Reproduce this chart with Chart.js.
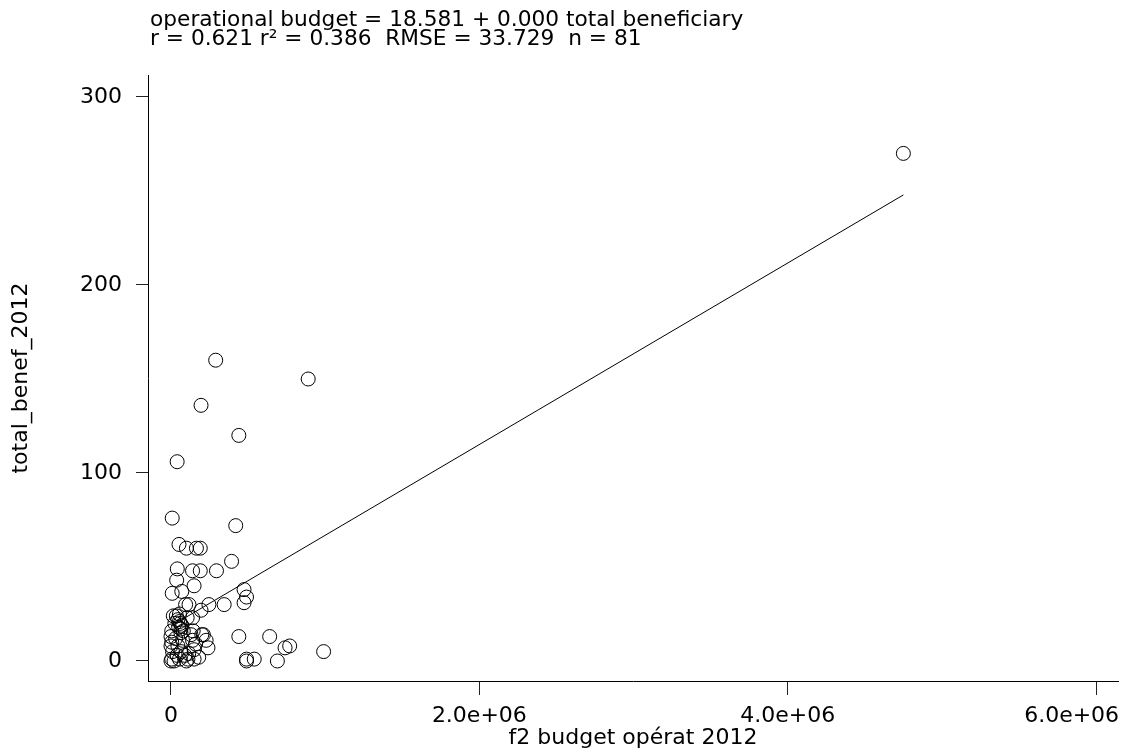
<!DOCTYPE html>
<html>
<head>
<meta charset="utf-8">
<title>total_benef_2012 vs f2 budget opérat 2012</title>
<script src="https://cdn.jsdelivr.net/npm/chart.js@4.4.1/dist/chart.umd.min.js"></script>
<style>
    html, body { margin: 0; padding: 0; background: #fff; }
    #chart { display: block; }
</style>
</head>
<body>
<canvas id="chart" width="1126" height="755"></canvas>
<script>
// Daten: f2 budget opérat 2012 (x) und total_benef_2012 (y)
const budget = [
    4750000, 290000, 890000, 195000, 440000, 40000, 8000, 420000, 52000, 100000,
    165000, 190000, 393000, 41000, 140000, 190000, 295000, 37000, 150000, 8000,
    70000, 474000, 490000, 474000, 95000, 117000, 246000, 345000, 195000, 15000,
    35000, 45000, 55000, 60000, 50000, 65000, 105000, 140000, 144000, 210000,
    228000, 240000, 440000, 640000, 740000, 770000, 990000, 490000, 490000, 540000,
    690000, 5000, 0, 5000, 0, 10000, 5000, 0, 65000, 75000,
    45000, 65000, 55000, 130000, 140000, 150000, 200000, 110000, 150000, 100000,
    40000, 25000, 70000, 55000, 80000, 115000, 160000, 30000, 90000, 180000,
    20000
];
const benef = [
    270, 160, 150, 136, 120, 106, 76, 72, 62, 60,
    60, 60, 53, 49, 48, 48, 48, 43, 40, 36,
    37, 38, 34, 31, 30, 30, 30, 30, 27, 24,
    24, 22, 21, 20, 18, 17, 23, 23, 16, 14,
    11, 7, 13, 13, 7, 8, 5, 1, 0, 1,
    0, 16, 13, 10, 8, 5, 1, 0, 15, 11,
    8, 5, 1, 14, 11, 6, 14, 1, 1, 0,
    3, 20, 19, 25, 16, 4, 9, 12, 3, 2,
    0
];

// Regressionsgerade (Endpunkte)
const fitX = [0, 4750000];
const fitY = [18.581, 247.9];

// Achsen
const xTicks = [0, 2000000, 4000000, 6000000];
const xTickLabels = ['0', '2.0e+06', '4.0e+06', '6.0e+06'];
const yTicks = [0, 100, 200, 300];
const yTickLabels = ['0', '100', '200', '300'];

const titleLines = [
    'operational budget = 18.581 + 0.000 total beneficiary',
    'r = 0.621 r\u00B2 = 0.386  RMSE = 33.729  n = 81'
];

const fontFamily = '"DejaVu Sans", "Liberation Sans", Arial, sans-serif';

// Titel-Plugin (linksbündig über der Plotfläche)
const titlePlugin = {
    id: 'statsTitle',
    afterDraw(chart) {
        const ctx = chart.ctx;
        ctx.save();
        ctx.fillStyle = '#000';
        ctx.font = '21.7px ' + fontFamily;
        ctx.textAlign = 'left';
        ctx.textBaseline = 'middle';
        titleLines.forEach((line, i) => {
            ctx.fillText(line, chart.chartArea.left + 2, 20 + i * 19);
        });
        ctx.restore();
    }
};

// letztes Label am rechten Rand: mit geschützten Leerzeichen nach links schieben
function xLabel(value) {
    const i = xTicks.indexOf(value);
    if (i === xTicks.length - 1) return xTickLabels[i] + '\u00A0'.repeat(7);
    return xTickLabels[i];
}

const points = budget.map((b, i) => ({ x: b, y: benef[i] }));
const fitLine = fitX.map((v, i) => ({ x: v, y: fitY[i] }));

new Chart(document.getElementById('chart'), {
    type: 'scatter',
    data: {
        datasets: [
            {
                label: 'total_benef_2012',
                data: points,
                pointStyle: 'circle',
                pointRadius: 7,
                pointBorderWidth: 1,
                borderColor: '#000',
                backgroundColor: 'rgba(0,0,0,0)'
            },
            {
                type: 'line',
                label: 'Fitted values',
                data: fitLine,
                borderColor: '#000',
                borderWidth: 1,
                pointRadius: 0,
                fill: false
            }
        ]
    },
    options: {
        responsive: false,
        animation: false,
        devicePixelRatio: 1,
        layout: {
            padding: { top: 75, right: 6, left: 0, bottom: 0 }
        },
        plugins: {
            legend: { display: false },
            tooltip: { enabled: false }
        },
        scales: {
            x: {
                type: 'linear',
                min: -149000,
                max: 6142000,
                afterBuildTicks: scale => {
                    scale.ticks = xTicks.map(v => ({ value: v }));
                },
                afterFit: scale => {
                    scale.height = 74;
                    scale.paddingLeft = 0;
                    scale.paddingRight = 0;
                },
                ticks: {
                    autoSkip: false,
                    maxRotation: 0,
                    padding: 8,
                    color: '#000',
                    font: { family: fontFamily, size: 22 },
                    callback: xLabel
                },
                grid: {
                    drawOnChartArea: false,
                    drawTicks: true,
                    tickLength: 14,
                    color: '#222'
                },
                border: { display: true, color: '#000', width: 1 },
                title: {
                    display: true,
                    text: 'f2 budget opérat 2012',
                    color: '#000',
                    font: { family: fontFamily, size: 22 },
                    padding: { top: 0, bottom: 4 }
                }
            },
            y: {
                type: 'linear',
                min: -10.64,
                max: 311.7,
                afterBuildTicks: scale => {
                    scale.ticks = yTicks.map(v => ({ value: v }));
                },
                afterFit: scale => {
                    scale.width = 148;
                    scale.paddingTop = 0;
                    scale.paddingBottom = 0;
                },
                ticks: {
                    autoSkip: false,
                    padding: 14,
                    color: '#000',
                    font: { family: fontFamily, size: 22 },
                    callback: value => yTickLabels[yTicks.indexOf(value)]
                },
                grid: {
                    drawOnChartArea: false,
                    drawTicks: true,
                    tickLength: 12,
                    color: '#222'
                },
                border: { display: true, color: '#000', width: 1 },
                title: {
                    display: true,
                    text: 'total_benef_2012',
                    color: '#000',
                    font: { family: fontFamily, size: 22 },
                    padding: { top: 8, bottom: 0 }
                }
            }
        }
    },
    plugins: [titlePlugin]
});
</script>
</body>
</html>
